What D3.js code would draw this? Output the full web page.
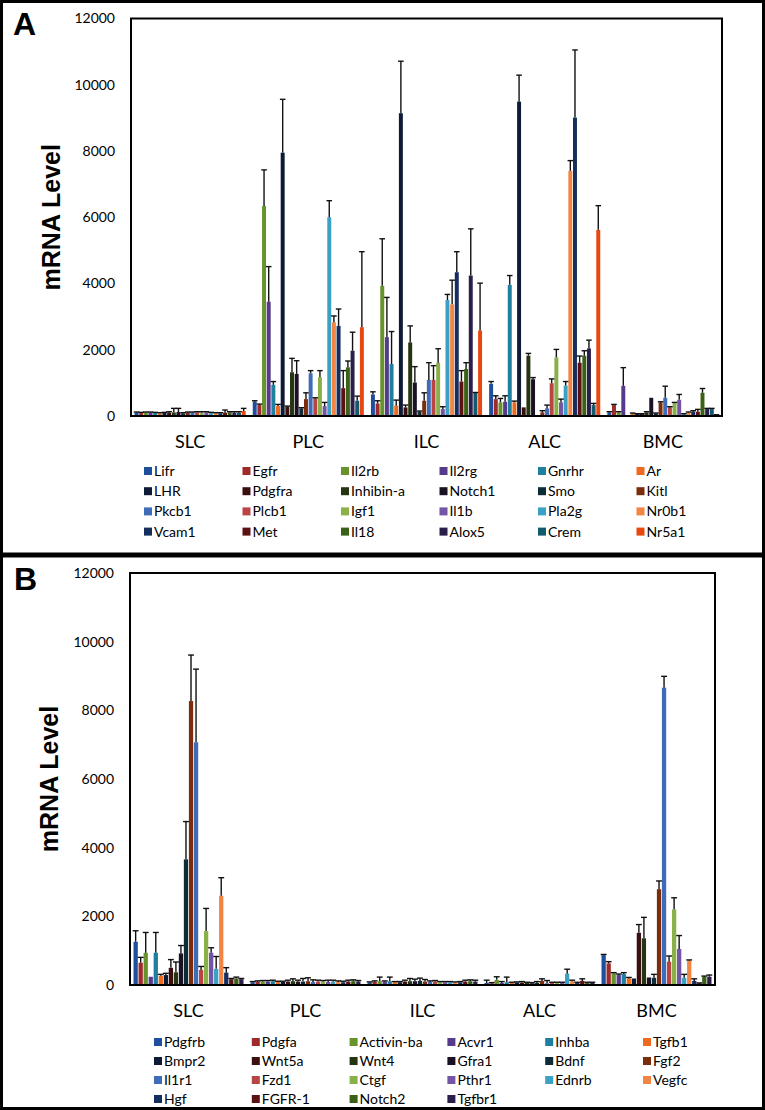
<!DOCTYPE html>
<html><head><meta charset="utf-8">
<script src="https://cdnjs.cloudflare.com/ajax/libs/d3/7.8.5/d3.min.js"></script>
<style>body{margin:0;background:#fff}svg{display:block}</style>
</head><body><svg id="c" width="765" height="1110"></svg>
<script>
const categories = ["SLC","PLC","ILC","ALC","BMC"];
const yTicks = [0,2000,4000,6000,8000,10000,12000];

const genesA = ["Lifr","Egfr","Il2rb","Il2rg","Gnrhr","Ar",
  "LHR","Pdgfra","Inhibin-a","Notch1","Smo","Kitl",
  "Pkcb1","Plcb1","Igf1","Il1b","Pla2g","Nr0b1",
  "Vcam1","Met","Il18","Alox5","Crem","Nr5a1"];
const genesB = ["Pdgfrb","Pdgfa","Activin-ba","Acvr1","Inhba","Tgfb1",
  "Bmpr2","Wnt5a","Wnt4","Gfra1","Bdnf","Fgf2",
  "Il1r1","Fzd1","Ctgf","Pthr1","Ednrb","Vegfc",
  "Hgf","FGFR-1","Notch2","Tgfbr1"];

// Panel A means / errors, one array per cell type
const meanA_SLC = [100,90,100,100,90,80,90,100,110,120,80,100,100,110,100,110,90,80,80,100,110,100,100,150];
const errA_SLC  = [20,20,20,20,20,20,20,30,120,110,20,20,20,20,30,20,20,20,20,80,20,30,30,80];
const meanA_PLC = [430,330,6340,3450,940,300,7950,280,1320,1270,230,510,1290,530,1170,300,6000,2830,2720,840,1470,1970,460,2680];
const errA_PLC  = [30,30,1090,1060,100,50,1610,20,420,400,20,190,80,20,200,110,500,190,510,530,190,560,140,2280];
const meanA_ILC = [650,380,3930,2380,1570,310,9140,260,2220,1010,130,460,1090,1090,1610,210,3500,3370,4340,1040,1420,4240,700,2580];
const errA_ILC  = [80,80,1420,1200,980,170,1570,70,500,480,20,240,520,430,420,70,170,730,620,330,190,1410,10,1430];
const meanA_ALC = [970,510,410,430,3960,410,9490,260,1820,1110,20,110,230,990,1770,410,920,7400,9010,1610,1820,2040,330,5620];
const errA_ALC  = [70,100,120,180,280,40,800,0,70,50,0,50,100,130,240,100,120,310,2040,200,150,250,50,730];
const meanA_BMC = [110,330,110,910,20,80,60,60,110,550,80,410,550,260,390,490,60,100,130,130,700,210,210,30];
const errA_BMC  = [20,20,20,550,0,10,10,10,20,0,10,20,350,20,20,160,10,20,30,70,130,20,20,10];

// Panel B means / errors
const meanB_SLC = [1260,650,940,240,940,270,290,500,370,920,3660,8270,7070,440,1570,940,470,2600,360,170,190,170];
const errB_SLC  = [320,155,590,0,590,40,50,240,300,230,1100,1340,2130,100,660,145,360,525,145,20,40,20];
const meanB_PLC = [80,90,100,100,110,90,90,100,110,100,100,110,90,100,100,90,100,90,80,100,110,100];
const errB_PLC  = [20,30,30,30,30,20,20,40,70,40,90,100,60,40,30,50,40,30,30,40,40,30];
const meanB_ILC = [70,90,110,100,110,80,80,100,110,110,120,100,90,100,80,80,80,70,80,100,110,100];
const errB_ILC  = [20,30,120,20,120,20,20,40,80,60,80,60,30,30,20,20,20,20,20,40,40,40];
const meanB_ALC = [60,50,150,60,80,60,70,70,60,50,60,120,50,60,60,60,330,110,60,120,60,60];
const errB_ALC  = [80,20,90,40,150,20,20,30,20,20,40,60,80,20,20,20,130,30,20,60,20,20];
const meanB_BMC = [870,630,340,290,320,190,190,1520,1360,220,210,2790,8660,680,2200,1050,210,710,120,50,240,240];
const errB_BMC  = [20,50,20,30,40,30,0,240,610,0,100,240,330,165,340,390,100,20,60,10,20,50];

const palette = ["#1f4e9c","#9e2a2b","#67922c","#563b8c","#1f7fa0","#ee6a1e",
  "#0d1b36","#3b0f0f","#243512","#1a1124","#0c2d38","#7b2c0a",
  "#3e6cb8","#b84444","#8ab04a","#7455a5","#3aa0c4","#f28543",
  "#152d5f","#5c1212","#3a6116","#2a1e4a","#135a70","#e8480f"];

const svg = d3.select("#c");

function drawPanel(o) {
  const g = svg.append("g");
  g.append("rect").attr("x",o.box[0]).attr("y",o.box[1]).attr("width",o.box[2]).attr("height",o.box[3])
    .attr("fill","none").attr("stroke","#000").attr("stroke-width",3);
  g.append("text").attr("x",o.letterX).attr("y",o.letterY).text(o.letter)
    .attr("font-family","Liberation Sans, Arial, sans-serif").attr("font-weight","bold").attr("font-size",32);

  const x0 = d3.scaleBand().domain(categories).range([o.left,o.right]).paddingInner(0.06).paddingOuter(0.03);
  const x1 = d3.scaleBand().domain(o.genes).range([0,x0.bandwidth()]).paddingInner(0.15);
  const y = d3.scaleLinear().domain([0,12000]).range([o.bottom,o.top]);
  const color = d3.scaleOrdinal().domain(o.genes).range(palette);

  const data = [];
  categories.forEach((c,ci)=>{
    o.genes.forEach((gname,gi)=>{
      data.push({c, g:gname, v:o.means[ci][gi], e:o.errs[ci][gi]});
    });
  });

  g.selectAll("rect.bar").data(data).join("rect").attr("class","bar")
    .attr("x",d=>x0(d.c)+x1(d.g)).attr("width",x1.bandwidth())
    .attr("y",d=>y(d.v)).attr("height",d=>y(0)-y(d.v))
    .attr("fill",d=>color(d.g));

  const eb = g.selectAll("g.err").data(data.filter(d=>d.e>0)).join("g").attr("class","err")
    .attr("stroke","#111").attr("stroke-width",1.4);
  eb.append("line")
    .attr("x1",d=>x0(d.c)+x1(d.g)+x1.bandwidth()/2).attr("x2",d=>x0(d.c)+x1(d.g)+x1.bandwidth()/2)
    .attr("y1",d=>y(d.v)).attr("y2",d=>y(d.v+d.e));
  eb.append("line")
    .attr("x1",d=>x0(d.c)+x1(d.g)-0.8).attr("x2",d=>x0(d.c)+x1(d.g)+x1.bandwidth()+0.8)
    .attr("y1",d=>y(d.v+d.e)).attr("y2",d=>y(d.v+d.e));

  g.append("rect").attr("x",o.left).attr("y",o.top).attr("width",o.right-o.left).attr("height",o.bottom-o.top)
    .attr("fill","none").attr("stroke","#000").attr("stroke-width",2);

  const ax = g.append("g").attr("transform",`translate(${o.left},0)`)
    .call(d3.axisLeft(y).tickValues(yTicks).tickSize(0).tickPadding(16).tickFormat(d3.format("d")));
  ax.select(".domain").remove();
  ax.selectAll("text").attr("font-family","Lato, sans-serif").attr("font-size",14).attr("fill","#000");

  const xa = g.append("g").attr("transform",`translate(0,${o.bottom})`)
    .call(d3.axisBottom(x0).tickSize(0).tickPadding(o.catPad));
  xa.select(".domain").remove();
  xa.selectAll("text").attr("font-family","Lato, sans-serif").attr("font-size",18).attr("fill","#000");

  g.append("text").attr("transform",`translate(${o.titleX},${(o.top+o.bottom)/2}) rotate(-90)`)
    .attr("text-anchor","middle").text("mRNA Level")
    .attr("font-family","Liberation Sans, Arial, sans-serif").attr("font-weight","bold").attr("font-size",25);

  const lg = g.selectAll("g.leg").data(o.genes).join("g").attr("class","leg")
    .attr("transform",(d,i)=>`translate(${o.legX + (i%6)*o.legDX},${o.legY + Math.floor(i/6)*o.legDY})`);
  lg.append("rect").attr("x",0).attr("y",-4).attr("width",8).attr("height",8).attr("fill",d=>color(d));
  lg.append("text").attr("x",10).attr("y",5).text(d=>d)
    .attr("font-family","Lato, sans-serif").attr("font-size",14).attr("fill","#000");
}

drawPanel({
  box:[1.5,1.5,762,552.5], letter:"A", letterX:13, letterY:35,
  left:131, right:722, top:18.5, bottom:416, titleX:60,
  genes:genesA,
  means:[meanA_SLC,meanA_PLC,meanA_ILC,meanA_ALC,meanA_BMC],
  errs:[errA_SLC,errA_PLC,errA_ILC,errA_ALC,errA_BMC],
  catPad:19, legX:144, legY:471, legDX:98.5, legDY:20.2
});
drawPanel({
  box:[1.5,556,762,552.5], letter:"B", letterX:14, letterY:590,
  left:130, right:715, top:573, bottom:985, titleX:58,
  genes:genesB,
  means:[meanB_SLC,meanB_PLC,meanB_ILC,meanB_ALC,meanB_BMC],
  errs:[errB_SLC,errB_PLC,errB_ILC,errB_ALC,errB_BMC],
  catPad:19, legX:154, legY:1042, legDX:97.8, legDY:19
});
</script></body></html>
